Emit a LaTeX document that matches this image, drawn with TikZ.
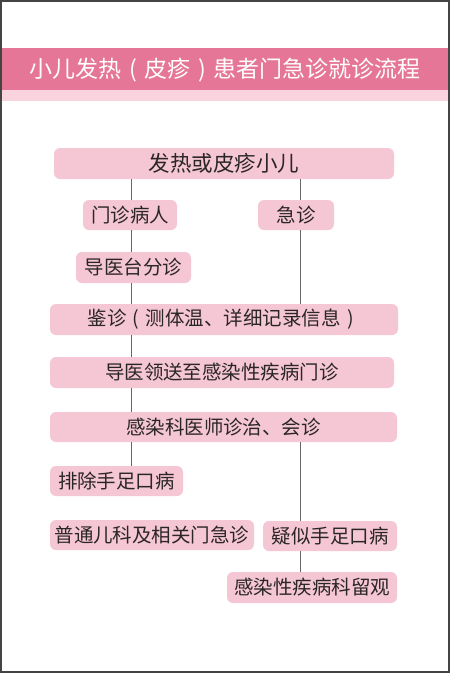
\documentclass[tikz,border=0pt]{standalone}
\usepackage{fontspec}
\setmainfont{Noto Sans CJK SC}
\newfontfamily\cjk{Noto Sans CJK SC}
\newcommand\zlp{\makebox[1em][c]{(}}
\newcommand\zrp{\makebox[1em][c]{)}}
\definecolor{bandpink}{HTML}{E67697}
\definecolor{striplight}{HTML}{F9D3DD}
\definecolor{boxpink}{HTML}{F5C6D3}
\definecolor{txtdark}{HTML}{2A2627}
\definecolor{linegray}{HTML}{666666}
\definecolor{framegray}{HTML}{444444}
\tikzset{
  stepbox/.style={fill=boxpink, rounded corners=6pt, inner sep=0pt, text=txtdark, font=\cjk\fontsize{19.5}{20}\selectfont},
  conn/.style={draw=linegray, line width=1pt}
}
\begin{document}
\begin{tikzpicture}[x=1pt,y=-1pt]
\useasboundingbox (0,0) rectangle (450,673);
\fill[white] (0,0) rectangle (450,673);
% title band
\fill[striplight] (0,89.5) rectangle (450,100.5);
\fill[bandpink] (0,48) rectangle (450,90);
\node[text=white, font=\cjk\fontsize{23}{24}\selectfont] (title) at (225,70) {小儿发热\zlp 皮疹\zrp 患者门急诊就诊流程};
% boxes
\node[stepbox, minimum width=340pt, minimum height=31pt, font=\cjk\fontsize{21.5}{22}\selectfont] (top) at (224,163.5) {发热或皮疹小儿};
\node[stepbox, minimum width=94pt, minimum height=30pt] (mz) at (130,215) {门诊病人};
\node[stepbox, minimum width=76pt, minimum height=30pt] (jz) at (296,215) {急诊};
\node[stepbox, minimum width=115pt, minimum height=31pt] (dy) at (133.5,267.5) {导医台分诊};
\node[stepbox, minimum width=348pt, minimum height=31pt] (jian) at (224,319.5) {鉴诊\zlp 测体温、详细记录信息\zrp};
\node[stepbox, minimum width=344pt, minimum height=31pt] (ls) at (222,372.5) {导医领送至感染性疾病门诊};
\node[stepbox, minimum width=347pt, minimum height=30pt] (gr) at (223.5,427) {感染科医师诊治、会诊};
\node[stepbox, minimum width=133pt, minimum height=30pt] (pc) at (116.5,481) {排除手足口病};
\node[stepbox, minimum width=204pt, minimum height=30pt] (pt) at (152,535) {普通儿科及相关门急诊};
\node[stepbox, minimum width=134pt, minimum height=30pt] (ys) at (330,536) {疑似手足口病};
\node[stepbox, minimum width=170pt, minimum height=31pt] (lg) at (312,587.5) {感染性疾病科留观};
% connectors
\draw[conn] (top.south -| 131,0) -- (mz.north -| 131,0);
\draw[conn] (mz.south -| 131,0) -- (dy.north -| 131,0);
\draw[conn] (dy.south -| 131,0) -- (jian.north -| 131,0);
\draw[conn] (jian.south -| 131,0) -- (ls.north -| 131,0);
\draw[conn] (ls.south -| 131,0) -- (gr.north -| 131,0);
\draw[conn] (gr.south -| 131,0) -- (pc.north -| 131,0);
\draw[conn] (top.south -| 300.5,0) -- (jz.north -| 300.5,0);
\draw[conn] (jz.south -| 300.5,0) -- (jian.north -| 300.5,0);
\draw[conn] (gr.south -| 300.5,0) -- (ys.north -| 300.5,0);
\draw[conn] (ys.south -| 300.5,0) -- (lg.north -| 300.5,0);
% frame
\draw[framegray, line width=1.6pt] (0.8,0.8) rectangle (448.8,672.2);
\end{tikzpicture}
\end{document}
